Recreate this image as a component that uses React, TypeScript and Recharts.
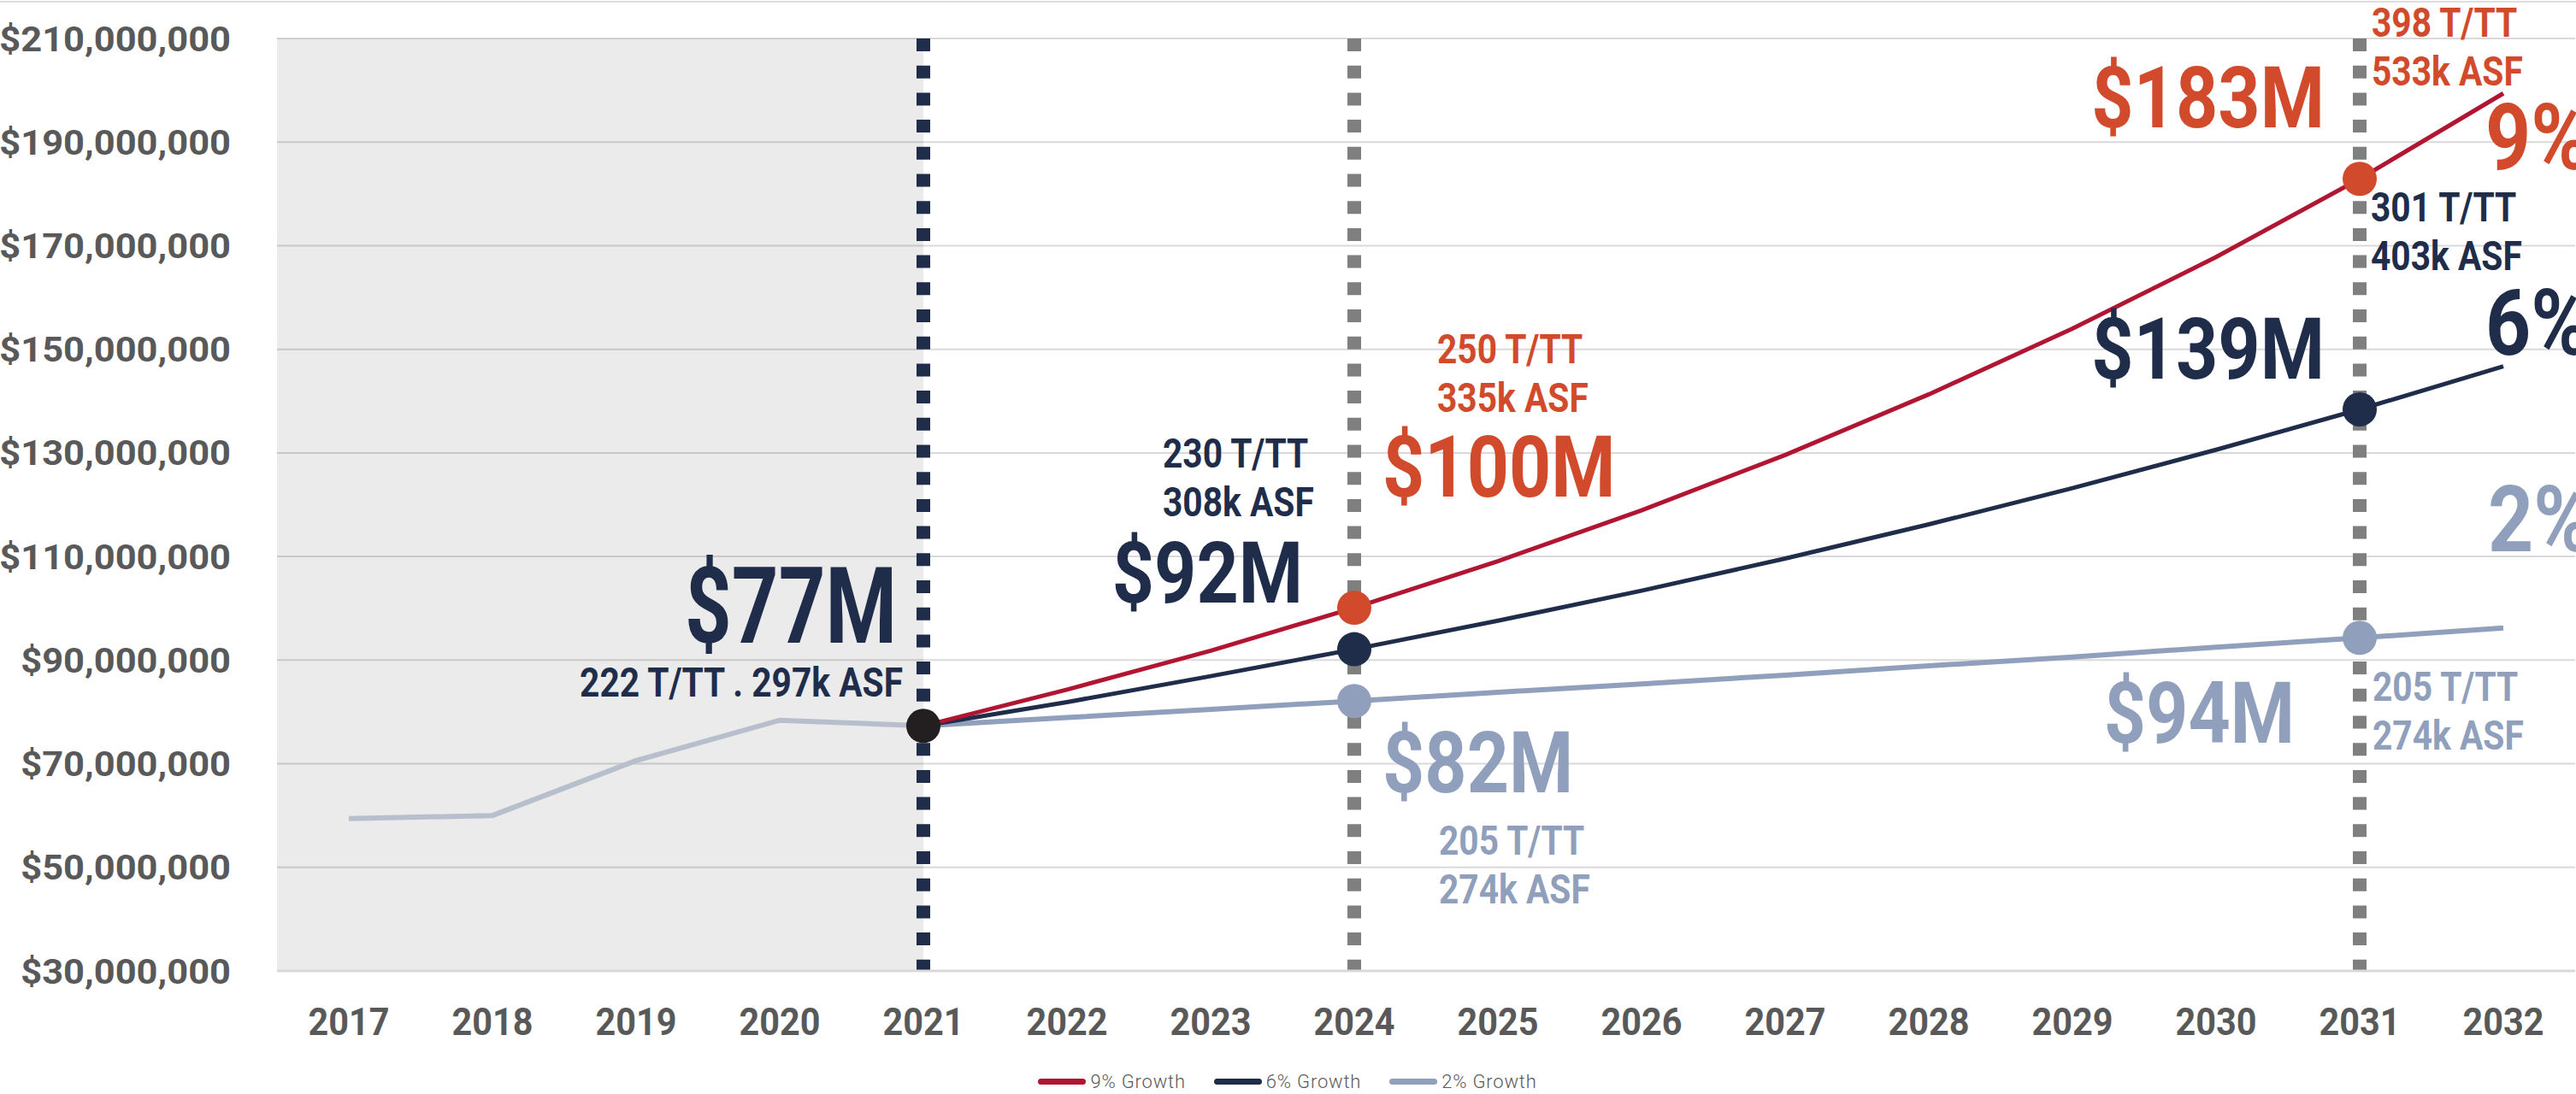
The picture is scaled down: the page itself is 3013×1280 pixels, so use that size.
import { LineChart, Line, XAxis, YAxis, CartesianGrid, ReferenceArea, ReferenceLine, Legend } from "recharts";

const years = ["2017", "2018", "2019", "2020", "2021", "2022", "2023", "2024", "2025", "2026", "2027", "2028", "2029", "2030", "2031", "2032"];
// revenue, $M
const actual = [59.4, 60.0, 70.6, 78.4, 77.3, null, null, null, null, null, null, null, null, null, null, null];
const growth9 = [null, null, null, null, 77.3, 84.3, 91.8, 100.1, 109.1, 118.9, 129.6, 141.3, 154.0, 167.8, 182.9, 199.4];
const growth6 = [null, null, null, null, 77.3, 81.9, 86.9, 92.1, 97.6, 103.4, 109.6, 116.2, 123.2, 130.6, 138.4, 146.7];
const growth2 = [null, null, null, null, 77.3, 78.9, 80.5, 82.1, 83.8, 85.4, 87.1, 88.9, 90.6, 92.5, 94.3, 96.2];
const yTicks = [30, 50, 70, 90, 110, 130, 150, 170, 190, 210];

const baseYear = "2021";
const milestoneYears = ["2024", "2031"];
const baseNote = ["$77M", "222 T/TT . 297k ASF"];
const notes9 = [["$100M", "250 T/TT", "335k ASF"], ["$183M", "398 T/TT", "533k ASF"]];
const notes6 = [["$92M", "230 T/TT", "308k ASF"], ["$139M", "301 T/TT", "403k ASF"]];
const notes2 = [["$82M", "205 T/TT", "274k ASF"], ["$94M", "205 T/TT", "274k ASF"]];
const seriesNames = ["9% Growth", "6% Growth", "2% Growth"];
const endLabels = ["9%", "6%", "2%"];

const data = years.map((year, i) => ({ year, actual: actual[i], g9: growth9[i], g6: growth6[i], g2: growth2[i] }));

const FONT = "Roboto, 'DejaVu Sans', sans-serif";
const RED_LINE = "#B01531";
const RED = "#D24A2C";
const NAVY = "#1F2D4B";
const LIGHT = "#8F9FBC";
const HIST = "#B8BFCC";
const AXIS_TEXT = "#595959";

const BIG = { size: 124, sx: 0.77 };
const MID = { size: 100, sx: 0.86 };
const PCT = { size: 108, sx: 0.86 };
const SMALL = { size: 48.5, sx: 0.84 };
const LINE_GAP = 57;

// label offsets from the marked point: value label, then the two unit lines
const noteLayout: Record<string, { v: [number, number, string]; u: [number, number, string] }[]> = {
  g9: [{ v: [33, -130, "start"], u: [97, -286, "start"] }, { v: [-41, -60, "end"], u: [14, -166, "start"] }],
  g6: [{ v: [-60, -55, "end"], u: [-224, -213, "start"] }, { v: [-41, -36, "end"], u: [13, -220, "start"] }],
  g2: [{ v: [33, 107, "start"], u: [99, 180, "start"] }, { v: [-76, 123, "end"], u: [15, 74, "start"] }],
};
const endLayout: Record<string, [number, number]> = { g9: [-21, 89], g6: [-21, -14], g2: [-18, -90] };

function Note({ x, y, text, style, color, anchor }: any) {
  return (
    <text transform={`translate(${x},${y}) scale(${style.sx},1)`} textAnchor={anchor} fontSize={style.size} fontWeight={700} fill={color} fontFamily={FONT}>
      {text}
    </text>
  );
}

const growthDot = (key: string, dotColor: string, textColor: string, notes: string[][], endLabel: string) => (props: any) => {
  const { cx, cy, index } = props;
  const k = `${key}-${index}`;
  if (cy == null || cx == null) return <g key={k} />;
  const m = milestoneYears.indexOf(years[index]);
  if (m >= 0) {
    const lay = noteLayout[key][m];
    const [value, u1, u2] = notes[m];
    return (
      <g key={k}>
        <circle cx={cx} cy={cy} r={20} fill={dotColor} />
        <Note x={cx + lay.v[0]} y={cy + lay.v[1]} text={value} style={MID} color={textColor} anchor={lay.v[2]} />
        <Note x={cx + lay.u[0]} y={cy + lay.u[1]} text={u1} style={SMALL} color={textColor} anchor={lay.u[2]} />
        <Note x={cx + lay.u[0]} y={cy + lay.u[1] + LINE_GAP} text={u2} style={SMALL} color={textColor} anchor={lay.u[2]} />
      </g>
    );
  }
  if (index === years.length - 1) {
    const [dx, dy] = endLayout[key];
    return (
      <g key={k}>
        <Note x={cx + dx} y={cy + dy} text={endLabel} style={PCT} color={textColor} anchor="start" />
      </g>
    );
  }
  return <g key={k} />;
};

const actualDot = (props: any) => {
  const { cx, cy, index } = props;
  const k = `actual-${index}`;
  if (cy == null || years[index] !== baseYear) return <g key={k} />;
  return (
    <g key={k}>
      <circle cx={cx} cy={cy} r={20} fill="#231F20" />
      <Note x={cx - 31} y={cy - 97} text={baseNote[0]} style={BIG} color={NAVY} anchor="end" />
      <Note x={cx - 24} y={cy - 34} text={baseNote[1]} style={SMALL} color={NAVY} anchor="end" />
    </g>
  );
};

const shadeShape = (props: any) => {
  const { x, y, width, height } = props;
  const bands = years.indexOf(baseYear) - years.indexOf(years[0]) + 1;
  return <rect x={x} y={y} width={(width * (bands - 0.5)) / bands} height={height} fill="#000" fillOpacity={0.08} />;
};

const YTick = ({ x, y, payload }: any) => (
  <text transform={`translate(${x},${y + 14.5}) scale(1.06,1)`} textAnchor="end" fontSize={41} fontWeight={700} fill={AXIS_TEXT} fontFamily={FONT}>
    {`$${(payload.value * 1e6).toLocaleString("en-US")}`}
  </text>
);

const XTick = ({ x, y, payload }: any) => (
  <text transform={`translate(${x},${y + 32}) scale(0.92,1)`} textAnchor="middle" fontSize={45} fontWeight={700} fill={AXIS_TEXT} fontFamily={FONT}>
    {payload.value}
  </text>
);

const renderLegend = ({ payload }: any) => {
  const items = [...(payload ?? [])]
    .filter((p: any) => seriesNames.includes(p.value))
    .sort((a: any, b: any) => seriesNames.indexOf(a.value) - seriesNames.indexOf(b.value));
  return (
    <div style={{ display: "flex", justifyContent: "center", alignItems: "center", gap: 33, height: 40, paddingTop: 10, boxSizing: "border-box" }}>
      {items.map((item: any) => (
        <div key={item.value} style={{ display: "flex", alignItems: "center" }}>
          <span style={{ display: "inline-block", width: 56, height: 7, borderRadius: 4, background: item.color }} />
          <span style={{ marginLeft: 5, fontFamily: FONT, fontWeight: 300, fontSize: 22, letterSpacing: 0.8, color: AXIS_TEXT }}>{item.value}</span>
        </div>
      ))}
    </div>
  );
};

export default function App() {
  return (
    <div style={{ position: "relative", width: 3013, height: 1280, background: "#fff" }}>
      <style>{"body{margin:0}"}</style>
      <div style={{ position: "absolute", top: 1, left: 0, width: 3013, height: 2, background: "#DDDDDD" }} />
      <LineChart width={3013} height={1280} data={data} margin={{ top: 45, right: 1, left: 0, bottom: 0 }}>
        <ReferenceArea x1={years[0]} x2={baseYear} shape={shadeShape} ifOverflow="visible" />
        <CartesianGrid vertical={false} stroke="#D9D9D9" strokeWidth={2} />
        <XAxis dataKey="year" scale="band" height={104} tickLine={false} tickSize={0} tickMargin={43} axisLine={{ stroke: "#D9D9D9", strokeWidth: 3 }} tick={<XTick />} interval={0} />
        <YAxis domain={[30, 210]} ticks={yTicks} width={324} axisLine={false} tickLine={false} tickSize={0} tickMargin={54} tick={<YTick />} interval={0} />
        <ReferenceLine segment={[{ x: baseYear, y: 210 }, { x: baseYear, y: 30 }]} stroke={NAVY} strokeWidth={16} strokeDasharray="15 16.7" />
        {milestoneYears.map((yr) => (
          <ReferenceLine key={yr} segment={[{ x: yr, y: 210 }, { x: yr, y: 30 }]} stroke="#7F7F7F" strokeWidth={16} strokeDasharray="15 16.7" />
        ))}
        <Legend verticalAlign="bottom" height={40} content={renderLegend} />
        <Line dataKey="g2" name={seriesNames[2]} stroke={LIGHT} strokeWidth={6} dot={growthDot("g2", LIGHT, LIGHT, notes2, endLabels[2])} activeDot={false} isAnimationActive={false} />
        <Line dataKey="g6" name={seriesNames[1]} stroke={NAVY} strokeWidth={5} dot={growthDot("g6", NAVY, NAVY, notes6, endLabels[1])} activeDot={false} isAnimationActive={false} />
        <Line dataKey="g9" name={seriesNames[0]} stroke={RED_LINE} strokeWidth={5} dot={growthDot("g9", RED, RED, notes9, endLabels[0])} activeDot={false} isAnimationActive={false} />
        <Line dataKey="actual" name="Actual" stroke={HIST} strokeWidth={6} legendType="none" dot={actualDot} activeDot={false} isAnimationActive={false} />
      </LineChart>
    </div>
  );
}
